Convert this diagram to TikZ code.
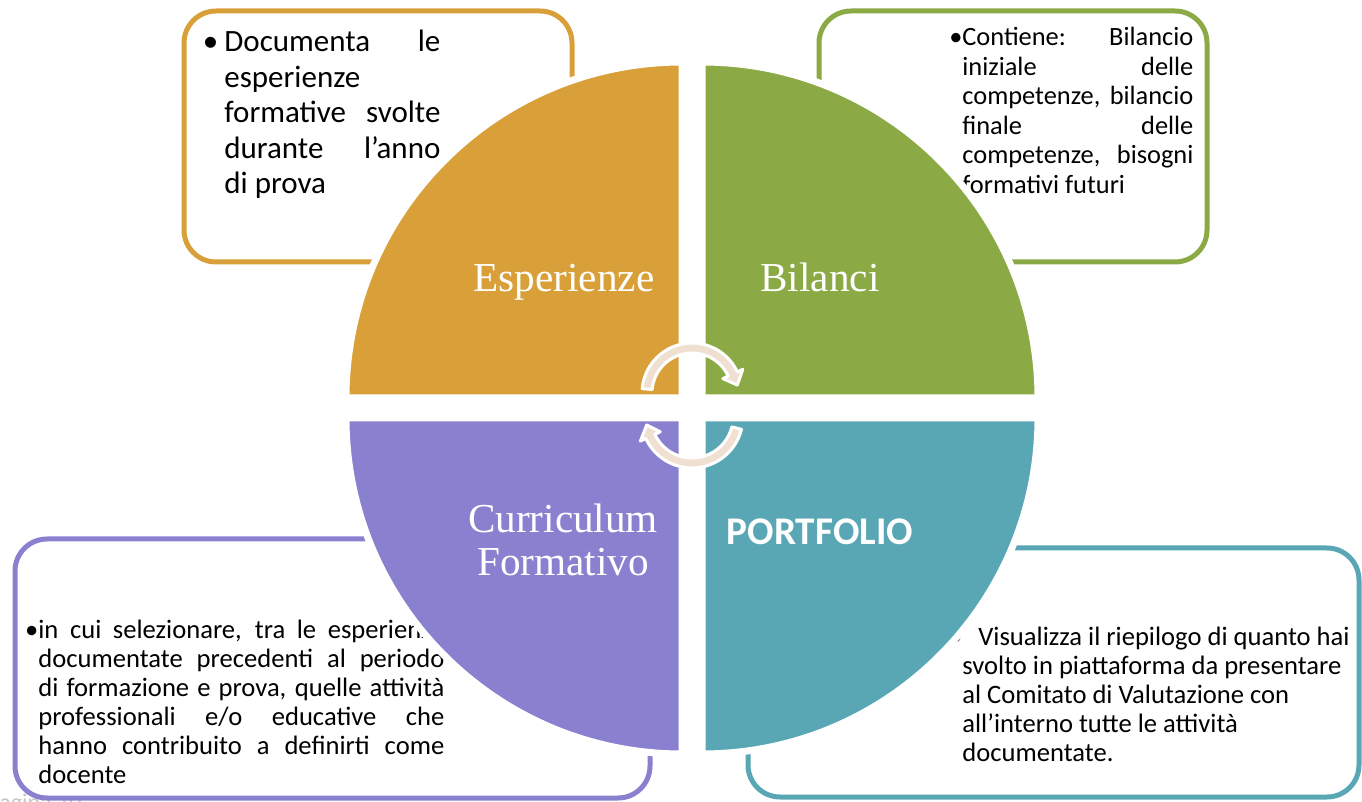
\documentclass[tikz,border=0pt]{standalone}
\usepackage{fontspec}
\setmainfont{Carlito}
\newfontfamily\serifcap{Liberation Serif}
\usetikzlibrary{calc}
\definecolor{espcol}{HTML}{D9A03A}
\definecolor{bilcol}{HTML}{8BAA45}
\definecolor{curcol}{HTML}{8A80D0}
\definecolor{portcol}{HTML}{59A7B4}
\definecolor{giro}{HTML}{F0E0D2}
\setlength{\parindent}{0pt}
\hyphenpenalty=10000
\exhyphenpenalty=10000

\begin{document}
\begin{tikzpicture}[x=0.5pt,y=-0.5pt,
  riquadro/.style={line width=2.5pt, rounded corners=16pt, fill=white},
  spicchio/.style={draw=white, line width=3.5pt},
  testo/.style={inner sep=0pt, anchor=north west, align=justify},
  titolo/.style={text=white, anchor=base, font=\serifcap\fontsize{20.6}{21.5}\selectfont},
  freccia/.style={fill=giro, draw=white, line width=1.5pt, line join=round}]
\useasboundingbox (0,0) rectangle (1362,802);
\pgfmathsetmacro{\raggio}{336}

% numero di pagina (quasi tutto fuori)
\begin{scope}
\clip (0,0) rectangle (1362,802);
\node[anchor=base west, inner sep=0pt, text=gray!45, font=\fontsize{12}{14}\selectfont] (pagina) at (-13,810) {Pagina 10};
\end{scope}

% riquadri
\draw[riquadro, draw=espcol] (184,11) rectangle (572,262);
\draw[riquadro, draw=bilcol] (819,11) rectangle (1207,262);
\draw[riquadro, draw=curcol] (15,539) rectangle (650,798);
\draw[riquadro, draw=portcol] (748,548) rectangle (1359,797);

\node[testo, text width=108pt, font=\fontsize{15.5}{17.75}\selectfont] (testoesp) at (224,30)
  {\llap{•\hspace{3pt}}Documenta le\linebreak esperienze\linebreak formative svolte\linebreak durante l’anno\linebreak di prova};
\node[testo, text width=115.5pt, font=\fontsize{13.2}{14.75}\selectfont] (testobil) at (962,27)
  {\llap{•}Contiene: Bilancio\linebreak iniziale delle\linebreak competenze, bilancio\linebreak finale delle\linebreak competenze, bisogni\linebreak formativi futuri};
\node[testo, text width=203pt, font=\fontsize{13.3}{14.5}\selectfont] (testocur) at (38,620)
  {\llap{•}in cui selezionare, tra le esperienze\linebreak documentate precedenti al periodo\linebreak di formazione e prova, quelle attività\linebreak professionali e/o educative che\linebreak hanno contribuito a definirti come\linebreak docente};
\node[testo, align=left, font=\fontsize{13.3}{14.5}\selectfont] (testoport) at (962,627)
  {\llap{•}\hspace*{8pt}Visualizza il riepilogo di quanto hai\\svolto in piattaforma da presentare\\al Comitato di Valutazione con\\all’interno tutte le attività\\documentate.};

% spicchi del cerchio
\coordinate (cTL) at (682,398);
\coordinate (cTR) at (702,398);
\coordinate (cBL) at (682,418);
\coordinate (cBR) at (702,418);
\path[spicchio, fill=espcol] (cTL) -- ++(-\raggio,0) arc[start angle=180, end angle=270, radius=\raggio] -- cycle;
\path[spicchio, fill=bilcol] (cTR) -- ++(0,-\raggio) arc[start angle=270, end angle=360, radius=\raggio] -- cycle;
\path[spicchio, fill=portcol] (cBR) -- ++(\raggio,0) arc[start angle=0, end angle=90, radius=\raggio] -- cycle;
\path[spicchio, fill=curcol] (cBL) -- ++(0,\raggio) arc[start angle=90, end angle=180, radius=\raggio] -- cycle;

\node[titolo] (esp) at (564,292) {Esperienze};
\node[titolo] (bil) at (820,292) {Bilanci};
\node[titolo, anchor=north, align=center] (cur) at (563,497) {Curriculum\\Formativo};
\node[text=white, anchor=base, font=\bfseries\fontsize{19.6}{22}\selectfont] (port) at (820,545) {PORTFOLIO};

% frecce circolari
\coordinate (tc) at (692,393);
\coordinate (bc) at (692,417);
\path[freccia] ($(tc)+(185:50)$) arc[start angle=185, end angle=335, radius=50]
  -- ($(tc)+(335:56)$) -- ($(tc)+(350:46)$) -- ($(tc)+(335:34)$) -- ($(tc)+(335:40)$)
  arc[start angle=335, end angle=185, radius=40] -- cycle;
\path[freccia] ($(bc)+(14:51)$) arc[start angle=14, end angle=155, radius=51]
  -- ($(bc)+(155:57)$) -- ($(bc)+(170:46)$) -- ($(bc)+(155:35)$) -- ($(bc)+(155:41)$)
  arc[start angle=155, end angle=14, radius=41] -- cycle;
\end{tikzpicture}
\end{document}
